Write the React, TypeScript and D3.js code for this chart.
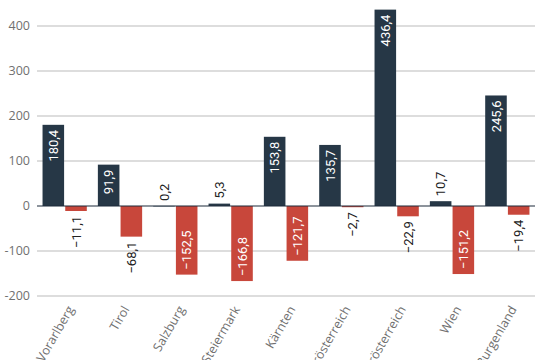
import React from "react";
import * as d3 from "d3";

const categories = ["Vorarlberg", "Tirol", "Salzburg", "Steiermark", "Kärnten", "Oberösterreich", "Niederösterreich", "Wien", "Burgenland"];
const seriesA = [180.4, 91.9, 0.2, 5.3, 153.8, 135.7, 436.4, 10.7, 245.6];
const seriesB = [-11.1, -68.1, -152.5, -166.8, -121.7, -2.7, -22.9, -151.2, -19.4];
const yTicks = [-200, -100, 0, 100, 200, 300, 400];
const seriesNames = ["A", "B"];
const colors = ["#263746", "#c8473b"];

const W = 540, H = 360;
const left = 37, right = 535;

export default function App() {
  const y = d3.scaleLinear().domain([-200, 400]).range([296, 26]);
  const x0 = d3.scaleBand<string>().domain(categories).range([left, right]).paddingInner(0.2).paddingOuter(0.1);
  const x1 = d3.scaleBand<string>().domain(seriesNames).range([0, x0.bandwidth()]).paddingInner(0.05);
  const fmt = (v: number) => d3.format(".1f")(Math.abs(v)).replace(".", ",");
  const lab = (v: number) => (v < 0 ? "\u2212" : "") + fmt(v);
  const textLen = (s: string) => s.length * 7;

  const bars: any[] = [];
  categories.forEach((c, i) => {
    [seriesA[i], seriesB[i]].forEach((v, j) => {
      bars.push({ c, v, j, key: c + j });
    });
  });

  return (
    <svg width={W} height={H} style={{ position: "absolute", left: 0, top: 0 }}>
      <g>
        {yTicks.filter(t => t !== 0).map(t => (
          <line key={t} x1={left} x2={right} y1={y(t)} y2={y(t)} stroke="#bbbbbb" strokeWidth={1} />
        ))}
        {yTicks.map(t => (
          <text key={"t" + t} x={30} y={y(t)} dy="0.35em" textAnchor="end" fontFamily="'Open Sans', sans-serif" fontSize={12.5} fill="#707070">
            {t < 0 ? "-" + Math.abs(t) : t}
          </text>
        ))}
      </g>
      {bars.map(b => {
        const bx = (x0(b.c) as number) + (x1(seriesNames[b.j]) as number);
        const bw = x1.bandwidth();
        const y0 = y(0), yv = y(b.v);
        const top = Math.min(y0, yv), h = Math.abs(yv - y0);
        const s = lab(b.v);
        const inside = h > textLen(s) + 10;
        const cx = bx + bw / 2;
        let ty: number, anchor: string;
        if (b.v >= 0) {
          if (inside) { ty = yv + 5; anchor = "end"; } else { ty = yv - 5; anchor = "start"; }
        } else {
          if (inside) { ty = yv - 5; anchor = "start"; } else { ty = yv + 5; anchor = "end"; }
        }
        return (
          <g key={b.key}>
            <rect x={bx} y={top} width={bw} height={Math.max(h, 0.5)} fill={colors[b.j]} />
            <text transform={`translate(${cx},${ty}) rotate(-90)`} dy="0.35em" textAnchor={anchor}
              fontFamily="Roboto, 'Liberation Sans', sans-serif" fontSize={13} fill={inside ? "#ffffff" : "#222"}>
              {s}
            </text>
          </g>
        );
      })}
      <line x1={left} x2={right} y1={y(0)} y2={y(0)} stroke="#1c2b3a" strokeWidth={1.2} />
      {categories.map(c => {
        const cx = (x0(c) as number) + x0.bandwidth() / 2;
        return (
          <text key={"c" + c} transform={`translate(${cx + 6},${307}) rotate(-60)`} dy="0.35em" textAnchor="end"
            fontFamily="'Open Sans', sans-serif" fontSize={12.5} fill="#707070">
            {c}
          </text>
        );
      })}
    </svg>
  );
}
